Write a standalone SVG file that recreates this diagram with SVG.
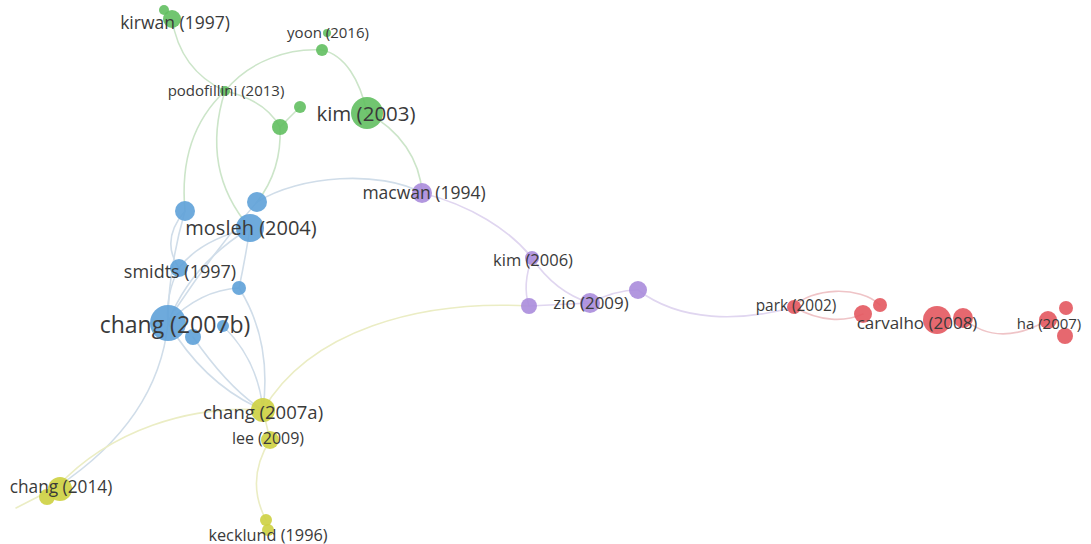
<svg xmlns="http://www.w3.org/2000/svg" width="1091" height="544" viewBox="0 0 1091 544">
<style>
.e{fill:none;stroke-width:1.6;stroke-linecap:round}
.eg{stroke:#cce5c9}
.eb{stroke:#d0dde9}
.ey{stroke:#ebedc4}
.ep{stroke:#e0d6f0}
.er{stroke:#efc4c7}
.g{fill:#62bf60;fill-opacity:.9}
.b{fill:#5ea1d8;fill-opacity:.9}
.y{fill:#cdd040;fill-opacity:.9}
.p{fill:#aa8cdc;fill-opacity:.9}
.r{fill:#e3585f;fill-opacity:.9}
text{font-family:"Open Sans","Noto Sans",sans-serif;fill:#3a3a3a;text-anchor:middle;dominant-baseline:central}
</style>
<rect width="1091" height="544" fill="#ffffff"/>
<g id="connectors">
<path class="e eg" d="M172,19 Q180,70 225,91"/>
<path class="e eg" d="M225,91 C250,60 290,48 322,50 C345,55 360,80 367,113"/>
<path class="e eg" d="M367,113 C400,130 420,160 422,193"/>
<path class="e eg" d="M225,91 Q265,100 280,127"/>
<path class="e eg" d="M280,127 L300,107"/>
<path class="e eg" d="M280,127 Q282,170 257,202"/>
<path class="e eg" d="M225,91 Q178,135 185,211"/>
<path class="e eg" d="M225,91 Q200,170 250,228"/>
<path class="e eb" d="M257,202 C300,175 380,170 422,193"/>
<path class="e eb" d="M185,211 Q168,270 168,323"/>
<path class="e eb" d="M250,228 Q200,240 179,268"/>
<path class="e eb" d="M250,228 Q190,265 168,323"/>
<path class="e eb" d="M257,202 Q215,250 175,310"/>
<path class="e eb" d="M250,228 Q245,260 239,288"/>
<path class="e eb" d="M239,288 Q200,290 168,323"/>
<path class="e eb" d="M185,211 Q160,240 179,268"/>
<path class="e eb" d="M179,268 Q165,295 168,323"/>
<path class="e eb" d="M168,323 Q205,385 263,410"/>
<path class="e eb" d="M193,337 Q230,390 263,410"/>
<path class="e eb" d="M239,288 Q272,340 263,410"/>
<path class="e eb" d="M223,326 Q258,360 263,410"/>
<path class="e eb" d="M168,323 Q158,420 57,487"/>
<path class="e ey" d="M263,410 C190,405 110,430 57,487"/>
<path class="e ey" d="M263,410 C310,330 420,300 529,306"/>
<path class="e ey" d="M263,410 L270,440"/>
<path class="e ey" d="M270,440 Q245,480 266,520"/>
<path class="e ey" d="M57,487 L16,508"/>
<path class="e ep" d="M422,193 C470,205 510,230 532,258"/>
<path class="e ep" d="M532,258 Q555,292 590,303"/>
<path class="e ep" d="M532,258 Q522,285 529,306"/>
<path class="e ep" d="M529,306 L590,303"/>
<path class="e ep" d="M590,303 Q615,290 638,290"/>
<path class="e ep" d="M638,290 C680,322 740,322 794,307"/>
<path class="e er" d="M794,307 C810,288 860,285 880,305"/>
<path class="e er" d="M794,307 C820,322 845,322 863,314"/>
<path class="e er" d="M963,318 C990,342 1020,336 1048,320"/>
</g>
<g id="n-kirwan"><circle class="g" cx="164" cy="10" r="5"/><circle class="g" cx="172" cy="19" r="9"/><text x="175" y="22" font-size="17.5">kirwan (1997)</text></g>
<g id="n-yoon"><circle class="g" cx="327" cy="33" r="4"/><circle class="g" cx="322" cy="50" r="6"/><text x="328" y="32" font-size="15">yoon (2016)</text></g>
<g id="n-podofillini"><circle class="g" cx="225" cy="91" r="5"/><text x="226" y="90" font-size="15">podofillini (2013)</text></g>
<g id="n-g4"><circle class="g" cx="300" cy="107" r="6"/></g>
<g id="n-g5"><circle class="g" cx="280" cy="127" r="8"/></g>
<g id="n-kim2003"><circle class="g" cx="367" cy="113" r="16"/><text x="366" y="113" font-size="20.5">kim (2003)</text></g>
<g id="n-b1"><circle class="b" cx="185" cy="211" r="10"/></g>
<g id="n-b2"><circle class="b" cx="257" cy="202" r="10"/></g>
<g id="n-mosleh"><circle class="b" cx="250" cy="228" r="14"/><text x="251" y="227" font-size="20">mosleh (2004)</text></g>
<g id="n-smidts"><circle class="b" cx="179" cy="268" r="9"/><text x="180" y="271" font-size="18">smidts (1997)</text></g>
<g id="n-b5"><circle class="b" cx="239" cy="288" r="7"/></g>
<g id="n-b7"><circle class="b" cx="193" cy="337" r="8"/></g>
<g id="n-b8"><circle class="b" cx="223" cy="326" r="6"/></g>
<g id="n-chang2007b"><circle class="b" cx="168" cy="323" r="18"/><text x="175" y="324" font-size="23">chang (2007b)</text></g>
<g id="n-chang2007a"><circle class="y" cx="263" cy="410" r="12"/><text x="263" y="411" font-size="18.5">chang (2007a)</text></g>
<g id="n-lee"><circle class="y" cx="270" cy="440" r="9"/><text x="268" y="438" font-size="16">lee (2009)</text></g>
<g id="n-chang2014"><circle class="y" cx="47" cy="497" r="8"/><circle class="y" cx="60" cy="489" r="12"/><text x="61" y="486" font-size="17.3">chang (2014)</text></g>
<g id="n-kecklund"><circle class="y" cx="266" cy="520" r="6"/><circle class="y" cx="268" cy="530" r="6"/><text x="268" y="535" font-size="16.3">kecklund (1996)</text></g>
<g id="n-macwan"><circle class="p" cx="422" cy="193" r="10"/><text x="424" y="192" font-size="17.5">macwan (1994)</text></g>
<g id="n-kim2006"><circle class="p" cx="532" cy="258" r="7"/><text x="533" y="259" font-size="16.5">kim (2006)</text></g>
<g id="n-p3"><circle class="p" cx="529" cy="306" r="8"/></g>
<g id="n-zio"><circle class="p" cx="590" cy="303" r="10"/><text x="591" y="302" font-size="16.9">zio (2009)</text></g>
<g id="n-p5"><circle class="p" cx="638" cy="290" r="9"/></g>
<g id="n-park"><circle class="r" cx="794" cy="307" r="7"/><text x="796" y="305" font-size="15.4">park (2002)</text></g>
<g id="n-r2"><circle class="r" cx="880" cy="305" r="7"/></g>
<g id="n-r3"><circle class="r" cx="863" cy="314" r="9"/></g>
<g id="n-carvalho"><circle class="r" cx="963" cy="318" r="10"/><circle class="r" cx="937" cy="320" r="14"/><text x="917" y="322" font-size="17">carvalho (2008)</text></g>
<g id="n-ha"><circle class="r" cx="1066" cy="308" r="7"/><circle class="r" cx="1065" cy="336" r="8"/><circle class="r" cx="1048" cy="320" r="9"/><text x="1049" y="323" font-size="15">ha (2007)</text></g>
</svg>
